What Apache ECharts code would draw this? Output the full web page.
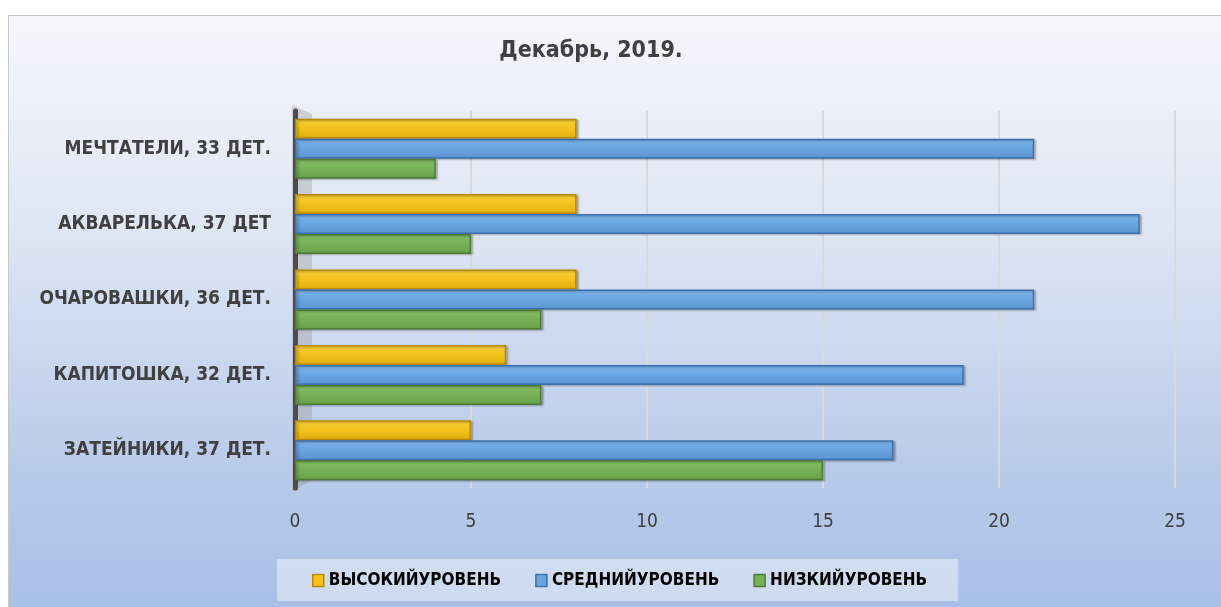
<!DOCTYPE html>
<html><head><meta charset="utf-8">
<script src="https://cdn.jsdelivr.net/npm/echarts@6/dist/echarts.min.js"></script>
<style>
html,body{margin:0;padding:0;background:#fff;}
#frame{position:absolute;left:8px;top:15px;width:1225px;height:600px;border:1px solid #c8c8c8;
background:linear-gradient(to bottom,#f5f7fc 0%,#dfe6f4 35%,#b9cbe9 75%,#a8bfe6 100%);}
#c{position:absolute;left:0;top:0;width:1221px;height:607px;}
</style></head>
<body>
<div id="frame"></div>
<div id="c"></div>
<script>
const categories = ['ЗАТЕЙНИКИ, 37 ДЕТ.', 'КАПИТОШКА, 32 ДЕТ.', 'ОЧАРОВАШКИ, 36 ДЕТ.', 'АКВАРЕЛЬКА, 37 ДЕТ', 'МЕЧТАТЕЛИ, 33 ДЕТ.'];
const seriesNames = ['ВЫСОКИЙУРОВЕНЬ', 'СРЕДНИЙУРОВЕНЬ', 'НИЗКИЙУРОВЕНЬ'];
const highLevel = [5, 6, 8, 8, 8];
const midLevel = [17, 19, 21, 24, 21];
const lowLevel = [15, 7, 7, 5, 4];
const xTicks = [0, 5, 10, 15, 20, 25];

const FONT = '"DejaVu Sans Condensed","Liberation Sans Narrow","Arial Narrow",sans-serif';
function grad(top, mid, bot){
  return new echarts.graphic.LinearGradient(0,0,0,1,[{offset:0,color:top},{offset:0.5,color:mid},{offset:1,color:bot}]);
}
const styles = [
  {color: grad('#f8cf3a','#f3c21c','#e0ac0c'), borderColor:'#b98a00', legend:'#f5c21c'},
  {color: grad('#7db4ea','#6aa5e0','#5a95d3'), borderColor:'#3c72b0', legend:'#6aa5e0'},
  {color: grad('#86bf66','#77b157','#67a048'), borderColor:'#4d7d33', legend:'#77b157'}
];
const dataSets = [highLevel, midLevel, lowLevel];

const chart = echarts.init(document.getElementById('c'), null, {renderer:'canvas'});
chart.setOption({
  backgroundColor: 'transparent',
  animation: false,
  title: {
    text: 'Декабрь, 2019.', left: 586, top: 35, textAlign: 'center',
    textStyle: {fontFamily: FONT, fontSize: 23, fontWeight: 'bold', color: '#404040'}
  },
  legend: {
    left: 277, top: 559,
    backgroundColor: 'rgba(235,240,250,0.55)',
    padding: [13, 31, 12, 35],
    itemGap: 34, itemWidth: 11, itemHeight: 12,
    icon: 'rect',
    textStyle: {fontFamily: FONT, fontSize: 17, fontWeight: 'bold', color: '#000'},
    data: seriesNames.map((n,i)=>({name:n, itemStyle:{color:styles[i].legend, borderColor:styles[i].borderColor, borderWidth:1.5}}))
  },
  grid: {left: 295, right: 46, top: 111, bottom: 119, containLabel: false},
  graphic: [{
    type: 'polygon', z: 0,
    shape: {points: [[292,105],[312,114],[312,480],[292,492]]},
    style: {fill: 'rgba(150,150,150,0.35)'}
  }],
  xAxis: {
    type: 'value', min: xTicks[0], max: xTicks[xTicks.length-1], interval: 5,
    axisLine: {show:false}, axisTick:{show:false},
    axisLabel: {fontFamily: '"DejaVu Sans Condensed","Liberation Sans",Arial,sans-serif', fontSize: 19, color:'#404040', margin: 25},
    splitLine: {show:true, lineStyle:{color:'#d6d9de', width:2}}
  },
  yAxis: {
    type: 'category', data: categories,
    axisLine: {show:true, lineStyle:{color:'#4d4d4d', width:5}},
    axisTick: {show:false},
    axisLabel: {fontFamily: FONT, fontSize: 19, fontWeight:'bold', color:'#404040', margin: 24}
  },
  series: seriesNames.map((n,i)=>({
    name: n, type: 'bar',
    data: dataSets[i],
    barWidth: 20, barGap: '0%',
    itemStyle: {color: styles[i].color, borderColor: styles[i].borderColor, borderWidth: 1.5,
      shadowColor:'rgba(0,0,0,0.25)', shadowBlur:2, shadowOffsetX:2, shadowOffsetY:1},
    z: 3
  }))
});
</script>
</body></html>
